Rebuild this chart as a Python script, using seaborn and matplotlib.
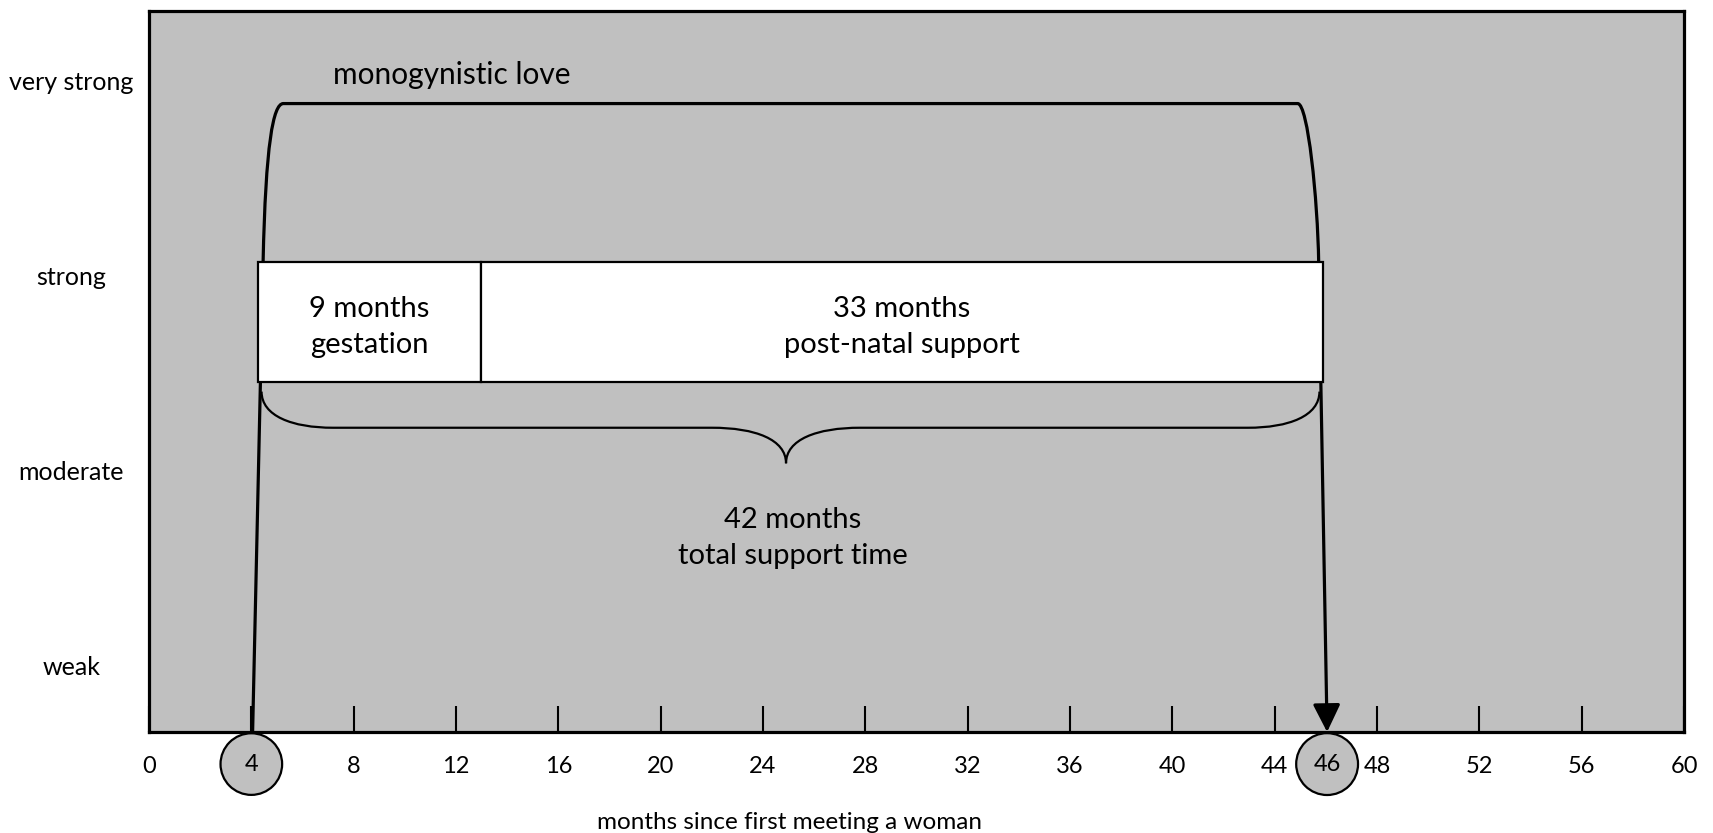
import numpy as np
import seaborn as sns
import matplotlib.pyplot as plt
from matplotlib.path import Path
from matplotlib.patches import PathPatch, Rectangle
import matplotlib.transforms as mtransforms

# values
strength_levels = ['weak', 'moderate', 'strong', 'very strong']
strength_pos = [1, 2, 3, 4]
month_ticks = list(range(0, 61, 4))

love_start, love_end = 4.05, 46.05     # months
love_level = 3.89                      # just under "very strong"
plateau = [5.25, 44.9]                 # where the curve flattens out
knee_left = (4.46, 3.08)               # where the rise starts to bend
knee_right = (45.72, 3.08)

phase_edges = [4.26, 12.97, 45.9]      # gestation | post-natal support
phase_labels = ['9 months\ngestation', '33 months\npost-natal support']
phase_bottom, phase_top = 2.466, 3.08
phase_text_y = 2.745

brace_ends = [4.40, 45.75]
brace_tip = 24.9
brace_levels = [2.415, 2.23, 2.048]    # end, flat part, tip
total_label = '42 months\ntotal support time'
love_label = 'monogynistic love'
circled = ['4', '46']
circled_pos = [4, 46.05]

GRAY = '#c0c0c0'

sns.set_theme(style='ticks')
plt.rcParams['font.family'] = ['Lato', 'DejaVu Sans']
plt.rcParams['text.color'] = 'black'

fig = plt.figure(figsize=(17.13, 8.33), dpi=100)
ax = fig.add_axes([149 / 1713, 1 - 732 / 833, 1535 / 1713, 721 / 833])
ax.set_facecolor(GRAY)
ax.set_xlim(0, 60)
ax.set_ylim(0.672, 4.364)
for s in ax.spines.values():
    s.set_linewidth(2.3)
    s.set_color('black')

# x axis: inward ticks, labels, circled months
ax.set_xticks(month_ticks)
ax.set_xticklabels(['' if str(m) in circled else str(m) for m in month_ticks], fontsize=17)
ax.tick_params(axis='x', direction='in', length=18.5, width=1.5, pad=17,
               colors='black', labelcolor='black')
ax.set_yticks(strength_pos)
ax.set_yticklabels(strength_levels, fontsize=18, ha='center', va='center')
ax.tick_params(axis='y', length=0, pad=56, labelcolor='black')

trans = mtransforms.blended_transform_factory(ax.transData, ax.transAxes)
for lab, m in zip(circled, circled_pos):
    ax.text(m, -0.0445, lab, transform=trans, fontsize=17, ha='center', va='center',
            clip_on=False, zorder=10, color='black',
            bbox=dict(boxstyle='circle,pad=%s' % (0.86 if len(lab) == 1 else 0.73),
                      fc=GRAY, ec='black', lw=1.6))

ax.text(25.05, -0.125, 'months since first meeting a woman', transform=trans,
        fontsize=17.5, ha='center', va='center', color='black')

# love curve: steep rise, plateau, steep fall
y0 = ax.get_ylim()[0]
kl, kr = knee_left, knee_right
verts = [(love_start, y0), kl,
         (kl[0] + 0.1, kl[1] + 0.6), (plateau[0] - 0.4, love_level), (plateau[0], love_level),
         (plateau[1], love_level),
         (plateau[1] + 0.4, love_level), (kr[0] - 0.04, kr[1] + 0.32), kr]
codes = [Path.MOVETO, Path.LINETO, Path.CURVE4, Path.CURVE4, Path.CURVE4, Path.LINETO,
         Path.CURVE4, Path.CURVE4, Path.CURVE4]
ax.add_patch(PathPatch(Path(verts, codes), fc='none', ec='black', lw=2.3, zorder=3,
                       capstyle='butt', joinstyle='round'))
ax.annotate('', xy=(love_end, y0), xytext=kr,
            arrowprops=dict(arrowstyle='-|>,head_length=0.85,head_width=0.42',
                            mutation_scale=20, fc='black', ec='black', lw=2.3,
                            shrinkA=0, shrinkB=0), zorder=4)

# phase boxes
for (a, b), lab in zip(zip(phase_edges[:-1], phase_edges[1:]), phase_labels):
    ax.add_patch(Rectangle((a, phase_bottom), b - a, phase_top - phase_bottom,
                           fc='white', ec='black', lw=1.6, zorder=5))
    ax.text((a + b) / 2, phase_text_y, lab, fontsize=21,
            ha='center', va='center', linespacing=1.5, zorder=6, color='black')

# curly brace under the boxes
le, re = brace_ends
yend, yflat, ytip = brace_levels
bverts = [(le, yend), (le, yflat + 0.06), (le + 1.2, yflat), (le + 2.8, yflat),
          (brace_tip - 2.9, yflat),
          (brace_tip - 1.2, yflat), (brace_tip, yflat - 0.06), (brace_tip, ytip),
          (brace_tip, yflat - 0.06), (brace_tip + 1.2, yflat), (brace_tip + 2.9, yflat),
          (re - 2.8, yflat),
          (re - 1.2, yflat), (re, yflat + 0.06), (re, yend)]
bcodes = [Path.MOVETO] + [Path.CURVE4] * 3 + [Path.LINETO] + [Path.CURVE4] * 6 + \
         [Path.LINETO] + [Path.CURVE4] * 3
ax.add_patch(PathPatch(Path(bverts, bcodes), fc='none', ec='black', lw=1.6, zorder=3))

ax.text(25.15, 1.666, total_label, fontsize=21, ha='center', va='center',
        linespacing=1.45, color='black')
ax.text(11.85, 4.038, love_label, fontsize=21.5, ha='center', va='center', color='black')

fig.savefig('out.png', dpi=100, facecolor='white')
